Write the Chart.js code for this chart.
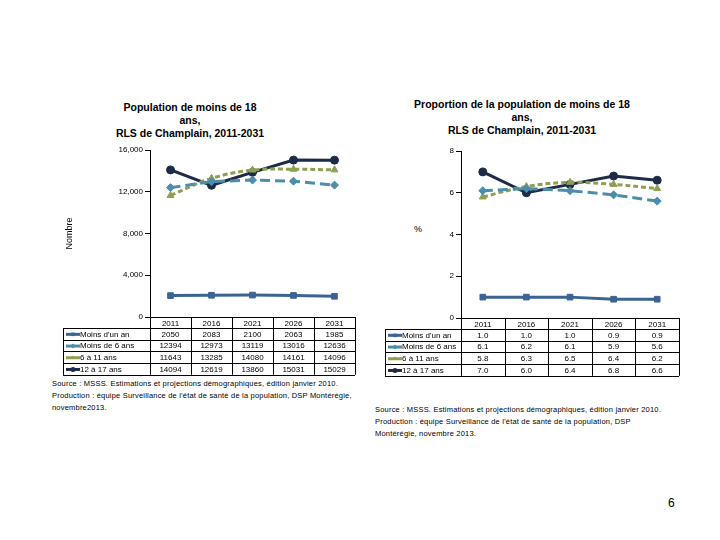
<!DOCTYPE html>
<html>
<head>
<meta charset="utf-8">
<script src="https://cdn.jsdelivr.net/npm/chart.js@4.4.0/dist/chart.umd.min.js"></script>
<style>
  body { margin:0; background:#fff; width:720px; height:540px; position:relative; overflow:hidden; font-family:"Liberation Sans", Arial, sans-serif; }
  canvas { position:absolute; }
  .title { position:absolute; text-align:center; font-weight:bold; font-size:10.5px; line-height:13px; color:#000; }
  .src { position:absolute; font-size:7.5px; line-height:12px; color:#000; letter-spacing:0.2px; }
  .lbl { position:absolute; font-size:9px; color:#000; }
</style>
</head>
<body>
<div class="title" style="left:90px; top:101px; width:200px;">Population de moins de 18<br>ans,<br>RLS de Champlain, 2011-2031</div>
<div class="title" style="left:392px; top:98px; width:260px;">Proportion de la population de moins de 18<br>ans,<br>RLS de Champlain, 2011-2031</div>
<div class="lbl" style="left:414px; top:224px;">%</div>
<div class="src" style="left:52px; top:378px; width:310px;">Source : MSSS. Estimations et projections démographiques, édition janvier 2010.<br>Production : équipe Surveillance de l'état de santé de la population, DSP Montérégie,<br>novembre2013.</div>
<div class="src" style="left:375px; top:404px; width:320px;">Source : MSSS. Estimations et projections démographiques, édition janvier 2010.<br>Production : équipe Surveillance de l'état de santé de la population, DSP<br>Montérégie, novembre 2013.</div>
<div class="lbl" style="left:668px; top:496px; font-size:12px;">6</div>
<canvas id="c1" width="315" height="245" style="left:50px; top:140px;"></canvas>
<canvas id="c2" width="320" height="245" style="left:370px; top:140px;"></canvas>
<script>
const years = ["2011", "2016", "2021", "2026", "2031"];
const seriesNames = ["Moins d'un an", "Moins de 6 ans", "6 à 11 ans", "12 à 17 ans"];
const countLt1 = [2050, 2083, 2100, 2063, 1985];
const count0to5 = [12394, 12973, 13119, 13016, 12636];
const count6to11 = [11643, 13285, 14080, 14161, 14096];
const count12to17 = [14094, 12619, 13860, 15031, 15029];
const pctLt1 = [1.0, 1.0, 1.0, 0.9, 0.9];
const pct0to5 = [6.1, 6.2, 6.1, 5.9, 5.6];
const pct6to11 = [5.8, 6.3, 6.5, 6.4, 6.2];
const pct12to17 = [7.0, 6.0, 6.4, 6.8, 6.6];

const FONT = "'Liberation Sans', Arial, sans-serif";
const styles = [
  { color:'#3B6494', dash:[], point:'rect', tension:0 },
  { color:'#4B8DAA', dash:[10,5], point:'rectRot', tension:0 },
  { color:'#8E9F52', dash:[5,3], point:'triangle', tension:0.35 },
  { color:'#1C2B47', dash:[], point:'circle', tension:0 }
];

function makeDatasets(arrs) {
  return arrs.map((d, i) => ({
    label: seriesNames[i],
    data: d,
    borderColor: styles[i].color,
    backgroundColor: styles[i].color,
    borderWidth: 3,
    borderDash: styles[i].dash,
    pointStyle: styles[i].point,
    pointRadius: 4,
    pointBorderWidth: 1,
    tension: styles[i].tension,
    fill: false
  }));
}

const tablePlugin = {
  id: 'dataTable',
  afterDraw(chart, args, opts) {
    const { ctx, scales: { x }, chartArea } = chart;
    const n = chart.data.labels.length;
    const step = x.getPixelForTick(1) - x.getPixelForTick(0);
    const left = x.getPixelForTick(0) - step / 2;
    const right = x.getPixelForTick(n - 1) + step / 2;
    const top = chartArea.bottom;
    const hdrH = 11, rowH = 11.7;
    const legL = opts.legendLeft;
    ctx.save();
    ctx.strokeStyle = '#000';
    ctx.lineWidth = 1;
    ctx.font = "8px " + FONT;
    ctx.fillStyle = '#000';
    ctx.textBaseline = 'middle';
    const nrows = chart.data.datasets.length;
    const bottom = top + hdrH + rowH * nrows;
    ctx.beginPath();
    ctx.moveTo(left, top + 0.5); ctx.lineTo(right, top + 0.5);
    for (let r = 0; r <= nrows; r++) {
      const y = Math.round(top + hdrH + rowH * r) + 0.5;
      ctx.moveTo(legL, y); ctx.lineTo(right, y);
    }
    for (let c = 0; c <= n; c++) {
      const xx = Math.round(left + step * c) + 0.5;
      ctx.moveTo(xx, top); ctx.lineTo(xx, bottom);
    }
    ctx.moveTo(legL + 0.5, top + hdrH); ctx.lineTo(legL + 0.5, bottom);
    ctx.stroke();
    ctx.textAlign = 'center';
    chart.data.labels.forEach((lab, c) => {
      ctx.fillText(lab, x.getPixelForTick(c), top + hdrH / 2 + 1);
    });
    chart.data.datasets.forEach((ds, r) => {
      const yc = top + hdrH + rowH * r + rowH / 2 + 0.5;
      ctx.save();
      ctx.strokeStyle = ds.borderColor;
      ctx.lineWidth = 3;
      ctx.beginPath();
      ctx.moveTo(legL + 3, yc); ctx.lineTo(legL + 17, yc);
      ctx.stroke();
      ctx.fillStyle = ds.borderColor;
      Chart.helpers.drawPoint(ctx, { pointStyle: ds.pointStyle, radius: 2.5, rotation: 0, borderWidth: 0 }, legL + 10, yc);
      ctx.restore();
      ctx.textAlign = 'left';
      ctx.fillText(ds.label, legL + 17, yc);
      ctx.textAlign = 'center';
      ds.data.forEach((v, c) => {
        ctx.fillText(opts.fmt(v), x.getPixelForTick(c), yc);
      });
    });
    ctx.restore();
  }
};

function makeChart(id, arrs, yMax, yStep, yTitle, yWidth, pad, legendLeft, fmt, tickFmt) {
  return new Chart(document.getElementById(id), {
    type: 'line',
    data: { labels: years, datasets: makeDatasets(arrs) },
    plugins: [tablePlugin],
    options: {
      responsive: false,
      animation: false,
      layout: { padding: pad },
      plugins: {
        legend: { display: false },
        tooltip: { enabled: false },
        dataTable: { legendLeft: legendLeft, fmt: fmt }
      },
      scales: {
        x: {
          offset: true,
          ticks: { display: false },
          grid: { display: false },
          border: { display: false },
          afterFit: (s) => { s.height = 58; }
        },
        y: {
          min: 0, max: yMax,
          ticks: { stepSize: yStep, color: '#000', font: { size: 8, family: FONT }, padding: 2, callback: tickFmt },
          grid: { drawOnChartArea: false, drawTicks: true, tickLength: 5, color: '#000' },
          border: { display: true, color: '#000', width: 1 },
          title: { display: !!yTitle, text: yTitle, color: '#000', font: { size: 9, family: FONT }, padding: { top: 0, bottom: 0 } },
          afterFit: (s) => { s.width = yWidth; }
        }
      }
    }
  });
}

makeChart('c1', [countLt1, count0to5, count6to11, count12to17], 16000, 4000, 'Nombre', 86,
  { top: 10, bottom: 10, left: 14, right: 10 }, 13,
  (v) => String(v), (v) => v.toLocaleString('en-US'));
makeChart('c2', [pctLt1, pct0to5, pct6to11, pct12to17], 8, 2, '', 91,
  { top: 11, bottom: 9, left: 0, right: 11 }, 15,
  (v) => v.toFixed(1), (v) => String(v));
</script>
</body>
</html>
